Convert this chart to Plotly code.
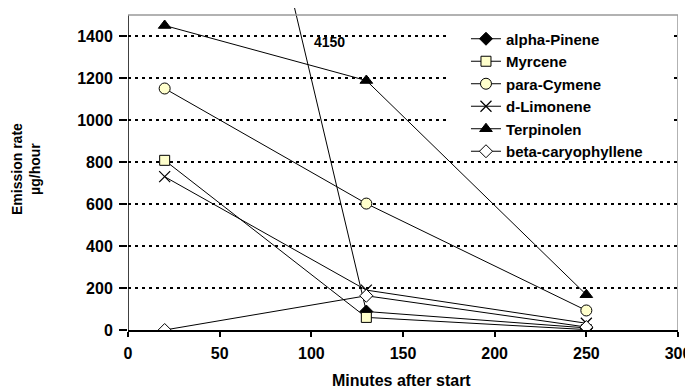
import plotly.graph_objects as go

minutes = [20, 130, 250]
alpha_pinene = [4150, 88, 10]
myrcene = [808, 60, 2]
para_cymene = [1150, 602, 93]
d_limonene = [730, 190, 32]
terpinolen = [1450, 1188, 168]
beta_caryophyllene = [0, 163, 14]
ytick_vals = [0, 200, 400, 600, 800, 1000, 1200, 1400]
xtick_vals = [0, 50, 100, 150, 200, 250, 300]

FONT = "Liberation Sans, Arial, sans-serif"
YMAX = 1500
YTOP = 1500 * 322 / 315

series = [
    ("alpha-Pinene", alpha_pinene, dict(symbol="diamond", size=10, color="black", line=dict(color="black", width=1))),
    ("Myrcene", myrcene, dict(symbol="square", size=10, color="#FFFFCC", line=dict(color="black", width=1))),
    ("para-Cymene", para_cymene, dict(symbol="circle", size=11, color="#FFFFCC", line=dict(color="black", width=1))),
    ("d-Limonene", d_limonene, dict(symbol="x-thin", size=11, color="black", line=dict(color="black", width=1.2))),
    ("Terpinolen", terpinolen, dict(symbol="triangle-up", size=11, color="black", line=dict(color="black", width=1))),
    ("beta-caryophyllene", beta_caryophyllene, dict(symbol="diamond", size=10, color="white", line=dict(color="black", width=1))),
]

fig = go.Figure()
for name, vals, marker in series:
    fig.add_trace(go.Scatter(x=minutes, y=vals, name=name, mode="lines+markers",
                             line=dict(color="black", width=1), marker=marker))

fig.update_layout(
    width=693, height=388,
    margin=dict(l=120, r=23, t=0, b=66),
    plot_bgcolor="white", paper_bgcolor="white",
    font=dict(family=FONT, color="black", size=15),
    showlegend=True,
    legend=dict(x=0.6145, y=0.955, xanchor="left", yanchor="top",
                bgcolor="rgba(0,0,0,0)", borderwidth=0,
                font=dict(family=FONT, size=15, weight="bold"),
                tracegroupgap=0, itemwidth=30),
    xaxis=dict(range=[0, 300], tickvals=xtick_vals, showgrid=False, zeroline=False,
               showline=True, linecolor="black", linewidth=1.5,
               ticks="outside", ticklen=5, tickcolor="black", tickwidth=1.5,
               ticklabelstandoff=3,
               tickfont=dict(family=FONT, size=16, weight="bold")),
    yaxis=dict(range=[0, YTOP], tickvals=ytick_vals, showgrid=True,
               gridcolor="black", griddash="3px,4px", gridwidth=2, zeroline=False,
               showline=False, ticks="outside", ticklen=8, tickcolor="black", tickwidth=1.5,
               ticklabelstandoff=3,
               tickfont=dict(family=FONT, size=16, weight="bold")),
    shapes=[
        dict(type="rect", xref="x", yref="y", x0=173.6, x1=296.8, y0=828, y1=1445,
             fillcolor="white", line=dict(width=0), layer="between"),
        dict(type="line", xref="x", yref="y", x0=0, x1=0, y0=0, y1=YMAX, line=dict(color="black", width=1.5)),
        dict(type="line", xref="x", yref="y", x0=0, x1=300, y0=YMAX, y1=YMAX, line=dict(color="#999999", width=1.5)),
        dict(type="line", xref="x", yref="y", x0=300, x1=300, y0=0, y1=YMAX, line=dict(color="#999999", width=1.5)),
    ],
    annotations=[
        dict(text="4150", x=110, y=1373, xref="x", yref="y", showarrow=False,
             xanchor="center", yanchor="middle",
             font=dict(family=FONT, size=14, weight="bold")),
        dict(text="Emission rate<br>µg/hour", x=-0.1855, y=0.5, xref="paper", yref="paper",
             xanchor="center", yanchor="middle",
             showarrow=False, textangle=-90, font=dict(family=FONT, size=14, weight="bold")),
        dict(text="Minutes after start", x=0.498, y=-0.158, xref="paper", yref="paper",
             xanchor="center", yanchor="middle",
             showarrow=False, font=dict(family=FONT, size=16, weight="bold")),
    ],
)

fig.write_html("out.html")
